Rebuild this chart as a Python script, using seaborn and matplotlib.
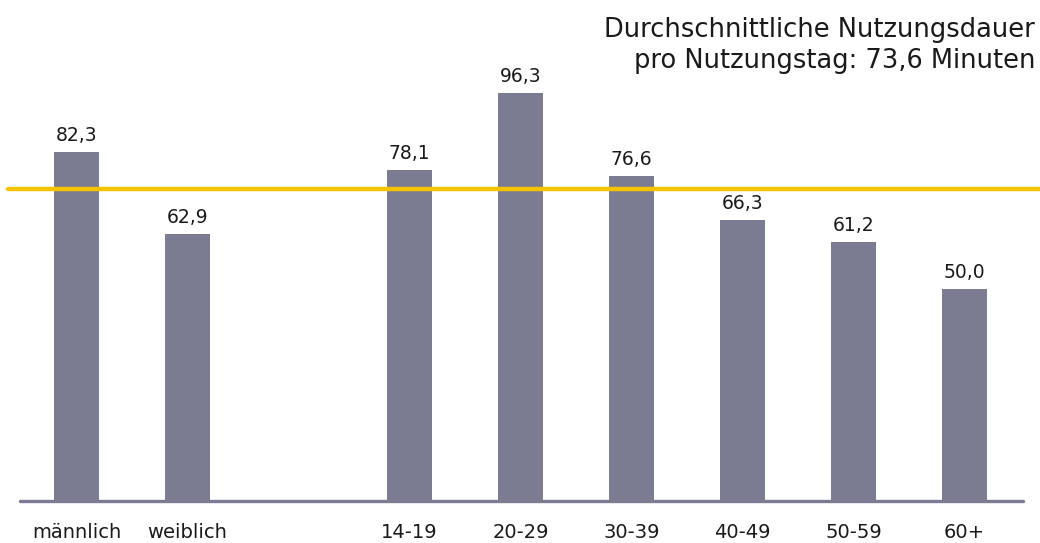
import matplotlib
matplotlib.use("Agg")
import matplotlib.pyplot as plt
import seaborn as sns
import pandas as pd

# Durchschnittliche Nutzungsdauer nach Geschlecht und Alter (Minuten)
categories = ["männlich", "weiblich", "14-19", "20-29", "30-39", "40-49", "50-59", "60+"]
values = [82.3, 62.9, 78.1, 96.3, 76.6, 66.3, 61.2, 50.0]
average = 73.6
slot_order = ["männlich", "weiblich", " ", "14-19", "20-29", "30-39", "40-49", "50-59", "60+"]

bar_color = "#7b7b91"
line_color = "#f5c300"
text_color = "#1a1a1a"

sns.set_theme(style="white")
plt.rcParams["font.family"] = ["DejaVu Sans"]

df = pd.DataFrame({"Gruppe": categories, "Minuten": values})

fig = plt.figure(figsize=(10.40, 5.43), dpi=100)
ax = fig.add_axes([0.0, 42 / 543, 1.0, 501 / 543])

sns.barplot(data=df, x="Gruppe", y="Minuten", order=slot_order,
            color=bar_color, width=0.4, saturation=1, linewidth=0, ax=ax)

ax.set_xlim(-0.689, 8.68)
ax.set_ylim(0, 118.2)

# Wertbeschriftungen mit Dezimalkomma
for container in ax.containers:
    labels = [f"{v:.1f}".replace(".", ",") if v == v else "" for v in container.datavalues]
    ax.bar_label(container, labels=labels, padding=5, fontsize=13.5, color=text_color)

# Durchschnittslinie
ax.axhline(average, xmin=0.008, xmax=1.0, color=line_color, lw=3.2, zorder=3)

# Grundlinie
ax.axhline(0, xmin=20 / 1040, xmax=1023 / 1040, color=bar_color, lw=2.4, zorder=4,
           clip_on=False)

for s in ax.spines.values():
    s.set_visible(False)
ax.set_yticks([])
ax.set_xlabel("")
ax.set_ylabel("")
ax.tick_params(axis="x", length=0, pad=16, labelsize=14, labelcolor=text_color)

avg_text = f"{average:.1f}".replace(".", ",")
fig.text(1035 / 1040, 1 - 17 / 543,
         f"Durchschnittliche Nutzungsdauer\npro Nutzungstag: {avg_text} Minuten",
         ha="right", va="top", fontsize=18.5, color=text_color, linespacing=1.23)

fig.savefig("out.png", dpi=100, facecolor="white")
